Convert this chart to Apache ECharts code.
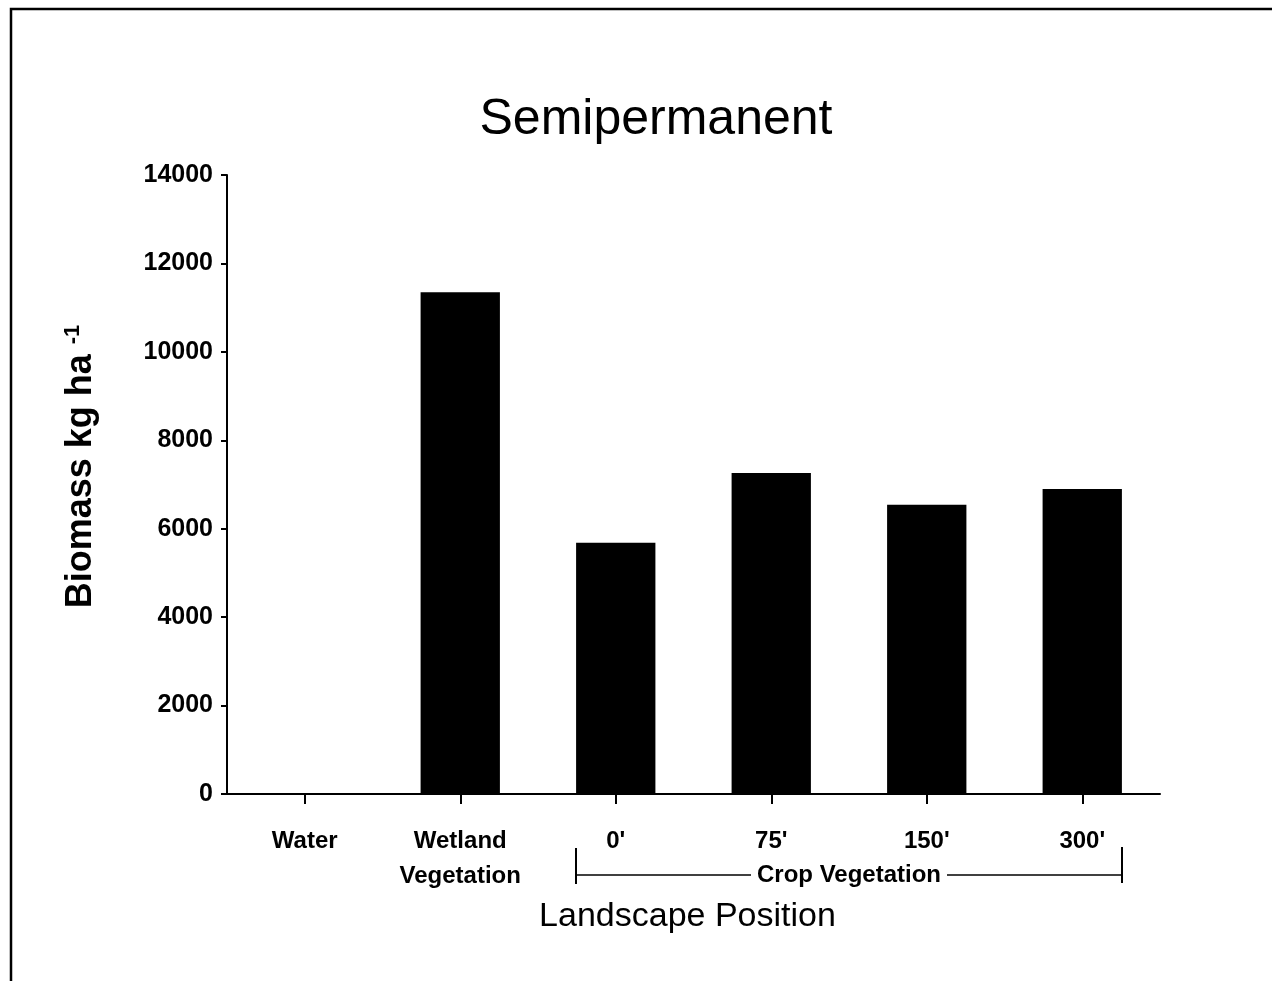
<!DOCTYPE html>
<html>
<head>
<meta charset="utf-8">
<script src="https://cdn.jsdelivr.net/npm/echarts@6/dist/echarts.min.js"></script>
<style>
html,body{margin:0;padding:0;background:#fff;}
#chart{width:1282px;height:981px;}
</style>
</head>
<body>
<div id="chart"></div>
<script>
var categories = ["Water", "Wetland\nVegetation", "0'", "75'", "150'", "300'"];
var biomass = [0, 11350, 5680, 7260, 6540, 6900];
var yTicks = { min: 0, max: 14000, interval: 2000 };
var titleText = "Semipermanent";
var yName = "Biomass kg ha";
var ySup = "-1";
var xName = "Landscape Position";
var groupLabel = "Crop Vegetation";
var groupFrom = 2, groupTo = 5;

var FONT = "'Liberation Sans', Arial, Helvetica, sans-serif";
var chart = echarts.init(document.getElementById('chart'), null, {renderer: 'canvas'});
var barRatio = 0.51;
var frame = {type: 'polyline', shape: {points: [[11, 985], [11, 9], [1272, 9]]}, style: {stroke: '#000', lineWidth: 2.5, fill: null}};

chart.setOption({
  backgroundColor: '#fff',
  animation: false,
  title: {
    text: titleText,
    left: 651,
    top: 90,
    textAlign: 'center',
    textStyle: {fontFamily: FONT, fontSize: 50, fontWeight: 'normal', color: '#000'}
  },
  grid: {left: 227, right: 122, top: 175, bottom: 187, containLabel: false},
  xAxis: {
    type: 'category',
    data: categories,
    name: xName,
    nameLocation: 'middle',
    nameGap: 106,
    nameTextStyle: {fontFamily: FONT, fontSize: 34, color: '#000', padding: [0, 12, 0, 0]},
    axisLine: {show: true, lineStyle: {color: '#000', width: 2}},
    axisTick: {show: true, alignWithLabel: true, length: 10, lineStyle: {color: '#000', width: 2}},
    axisLabel: {fontFamily: FONT, fontSize: 24, fontWeight: 'bold', color: '#000', margin: 30, lineHeight: 35, interval: 0},
    splitLine: {show: false}
  },
  yAxis: {
    type: 'value',
    min: yTicks.min, max: yTicks.max, interval: yTicks.interval,
    name: '{a|' + yName + ' }{b|' + ySup + '}',
    nameLocation: 'middle',
    nameRotate: 90,
    nameGap: 127,
    nameTextStyle: {
      padding: [0, 0, 0, 36],
      rich: {
        a: {fontFamily: FONT, fontSize: 36, fontWeight: 'bold', color: '#000'},
        b: {fontFamily: FONT, fontSize: 22, fontWeight: 'bold', color: '#000', verticalAlign: 'top', padding: [0, 0, 16, 0]}
      }
    },
    axisLine: {show: true, lineStyle: {color: '#000', width: 2}},
    axisTick: {show: true, length: 6, lineStyle: {color: '#000', width: 2}},
    axisLabel: {fontFamily: FONT, fontSize: 25, fontWeight: 'bold', color: '#000', margin: 14,
                formatter: function (v) { return String(v); }},
    splitLine: {show: false}
  },
  series: [{
    type: 'bar',
    data: biomass,
    barWidth: (barRatio * 100) + '%',
    itemStyle: {color: '#000'}
  }],
  graphic: [frame]
});

// Crop Vegetation bracket, positioned from the category axis
var cFrom = chart.convertToPixel({xAxisIndex: 0}, categories[groupFrom]);
var cNext = chart.convertToPixel({xAxisIndex: 0}, categories[groupFrom + 1]);
var cTo = chart.convertToPixel({xAxisIndex: 0}, categories[groupTo]);
var band = cNext - cFrom;
var half = band * barRatio / 2;
var x1 = Math.round(cFrom - half), x2 = Math.round(cTo + half);
var yLine = 875;
chart.setOption({
  graphic: [
    frame,
    {type: 'line', shape: {x1: x1, y1: yLine, x2: x2, y2: yLine}, style: {stroke: '#000', lineWidth: 1.5}},
    {type: 'line', shape: {x1: x1, y1: yLine - 27, x2: x1, y2: yLine + 9}, style: {stroke: '#000', lineWidth: 2}},
    {type: 'line', shape: {x1: x2, y1: yLine - 28, x2: x2, y2: yLine + 8}, style: {stroke: '#000', lineWidth: 2}},
    {type: 'text', x: (x1 + x2) / 2, y: yLine,
     style: {text: groupLabel, fontFamily: FONT, fontSize: 24, fontWeight: 'bold', fill: '#000',
             align: 'center', verticalAlign: 'middle', backgroundColor: '#fff', padding: [0, 6]}}
  ]
});
</script>
</body>
</html>
